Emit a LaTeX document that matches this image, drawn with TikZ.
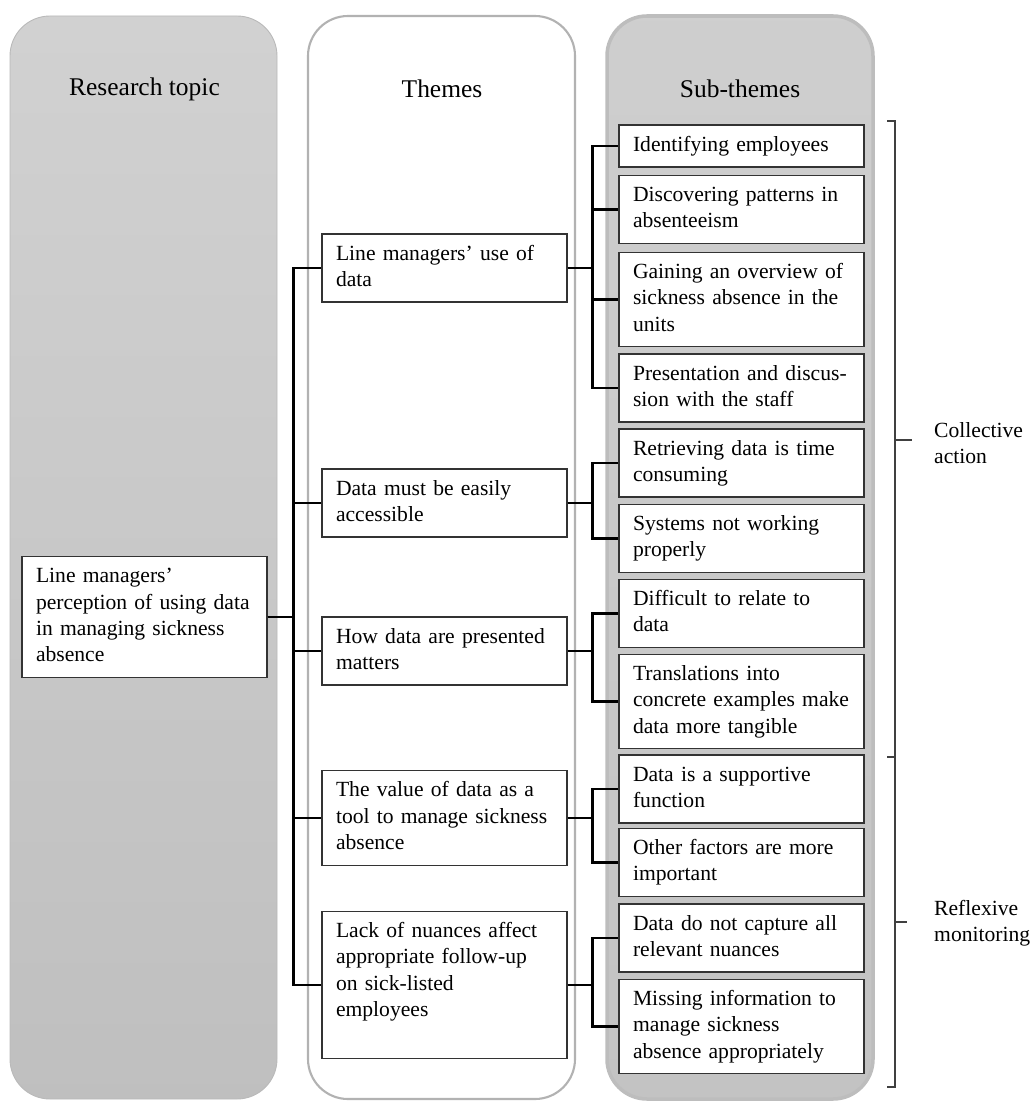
\documentclass[tikz,border=0pt]{standalone}
\usepackage{fontspec}
\setmainfont{Liberation Serif}
\usetikzlibrary{positioning}

\tikzset{
  panel/.style={rounded corners=0.8cm},
  header/.style={font=\fontsize{14.5}{17}\selectfont},
  box/.style={draw=black!80, line width=0.8pt, fill=white, align=left,
    text width=4.34cm, inner xsep=0.28cm, inner ysep=0.155cm,
    font=\fontsize{12.3}{15}\selectfont,
    execute at begin node=\strut, execute at end node=\strut},
  link/.style={black, line width=1.4pt},
  bracket/.style={black!75, line width=0.6pt},
  tag/.style={anchor=west, align=left, font=\fontsize{12.3}{15}\selectfont},
}

\begin{document}
\begin{tikzpicture}[x=0.02cm,y=-0.02cm]
\def\rootx{144.5}
\def\themex{444.5}
\def\subx{741.5}
\def\trunk{26}
\def\branch{25}
\useasboundingbox (0,0) rectangle (1030,1101);

% Column panels
\draw[panel, draw=gray!55, line width=0.5pt, top color=gray!36, bottom color=gray!50]
  (10,16) rectangle (277,1099);
\draw[panel, draw=gray!60, line width=1.2pt, fill=white]
  (308,16) rectangle (575,1099);
\draw[panel, draw=gray!52, line width=2pt, top color=gray!38, bottom color=gray!47]
  (607,16) rectangle (873,1099);

% Column headers
\node[header] (hroot) at (\rootx,89) {Research topic};
\node[header] (htheme) at (442,89) {Themes};
\node[header] (hsub) at (740,89) {Sub-themes};

% Research topic
\node[box] (root) at (\rootx,617) {Line managers’\\perception of using data\\in managing sickness\\absence};

% Themes
\foreach \n/\y/\txt in {
  t1/268/{Line managers’ use of\\data},
  t2/503/{Data must be easily\\accessible},
  t3/651/{How data are presented\\matters},
  t4/818/{The value of data as a\\tool to manage sickness\\absence},
  t5/985/{Lack of nuances affect\\appropriate follow-up\\on sick-listed\\employees\\\mbox{}}}{
  \node[box] (\n) at (\themex,\y) {\txt};
}

% Sub-themes
\foreach \n/\y/\txt in {
  s1/146/{Identifying employees},
  s2/209.5/{Discovering patterns in\\absenteeism},
  s3/299.5/{Gaining an overview of\\sickness absence in the\\units},
  s4/388/{Presentation and discus-\\sion with the staff},
  s5/463/{Retrieving data is time\\consuming},
  s6/538.5/{Systems not working\\properly},
  s7/613.5/{Difficult to relate to\\data},
  s8/701.5/{Translations into\\concrete examples make\\data more tangible},
  s9/789/{Data is a supportive\\function},
  s10/862.5/{Other factors are more\\important},
  s11/938/{Data do not capture all\\relevant nuances},
  s12/1026.5/{Missing information to\\manage sickness\\absence appropriately}}{
  \node[box] (\n) at (\subx,\y) {\txt};
}

% Topic to themes
\foreach \t in {t1,t2,t3,t4,t5}{
  \draw[link] (root.east) -- ++(\trunk,0) |- (\t.west);
}

% Themes to sub-themes
\foreach \t/\s in {t1/s1,t1/s2,t1/s3,t1/s4,t2/s5,t2/s6,t3/s7,t3/s8,t4/s9,t4/s10,t5/s11,t5/s12}{
  \draw[link] (\t.east) -- ++(\branch,0) |- (\s.west);
}

% Brackets
\draw[bracket] (887,121) -- (895,121) -- (895,757) -- (887,757);
\draw[bracket] (895,440) -- (912,440);
\draw[bracket] (887,757) -- (895,757) -- (895,1087) -- (887,1087);
\draw[bracket] (895,922) -- (907,922);

\node[tag] (collective) at (928,443) {Collective\\action};
\node[tag] (reflexive) at (928,923) {Reflexive\\monitoring};
\end{tikzpicture}
\end{document}
